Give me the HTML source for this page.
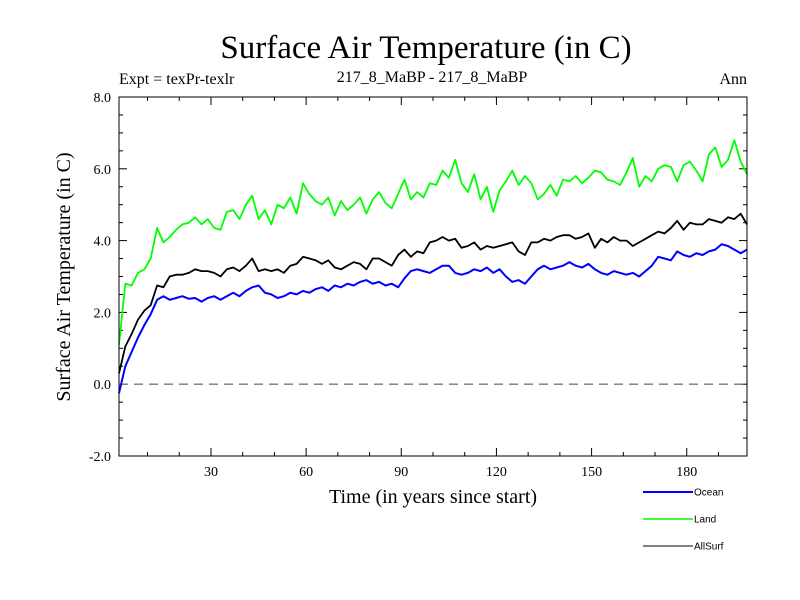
<!DOCTYPE html>
<html><head><meta charset="utf-8"><style>
body{margin:0;background:#fff;}
svg{display:block;font-family:"Liberation Serif",serif;}
</style></head><body>
<svg id="chart" width="800" height="600" viewBox="0 0 800 600">
<text x="426" y="58" font-size="33" text-anchor="middle">Surface Air Temperature (in C)</text>
<text x="119" y="84" font-size="16">Expt = texPr-texlr</text>
<text x="432" y="82" font-size="16" text-anchor="middle">217_8_MaBP - 217_8_MaBP</text>
<text x="747" y="84" font-size="16" text-anchor="end">Ann</text>
<text x="433" y="503" font-size="20" text-anchor="middle">Time (in years since start)</text>
<text transform="translate(70,277) rotate(-90)" font-size="20" text-anchor="middle">Surface Air Temperature (in C)</text>
<g id="axes"></g>
<g id="series"></g>
<rect x="119" y="97" width="628" height="359" fill="none" stroke="#000" stroke-width="1"/>
<g font-family="Liberation Sans, sans-serif" font-size="10">
<line x1="643" y1="492" x2="693" y2="492" stroke="#0000ff" stroke-width="2"/>
<text x="694" y="495.5">Ocean</text>
<line x1="643" y1="519" x2="693" y2="519" stroke="#00ff00" stroke-width="1.5"/>
<text x="694" y="522.5">Land</text>
<line x1="643" y1="546" x2="693" y2="546" stroke="#000" stroke-width="1"/>
<text x="694" y="549.5">AllSurf</text>
</g>
</svg>
<script>
const years = [];
for (let y = 1; y <= 199; y += 2) years.push(y);
const ocean = [-0.25,0.5,0.9,1.3,1.65,1.95,2.35,2.45,2.35,2.4,2.45,2.38,2.4,2.3,2.4,2.45,2.35,2.45,2.55,2.45,2.6,2.7,2.75,2.55,2.5,2.4,2.45,2.55,2.5,2.6,2.55,2.65,2.7,2.6,2.75,2.7,2.8,2.75,2.85,2.9,2.8,2.85,2.75,2.8,2.7,2.95,3.15,3.2,3.15,3.1,3.2,3.3,3.3,3.1,3.05,3.1,3.2,3.15,3.25,3.1,3.2,3.0,2.85,2.9,2.8,3.0,3.2,3.3,3.2,3.25,3.3,3.4,3.3,3.25,3.35,3.2,3.1,3.05,3.15,3.1,3.05,3.1,3.0,3.15,3.3,3.55,3.5,3.45,3.7,3.6,3.55,3.65,3.6,3.7,3.75,3.9,3.85,3.75,3.65,3.75];
const land = [1.1,2.8,2.75,3.1,3.2,3.5,4.35,3.95,4.1,4.3,4.45,4.5,4.65,4.45,4.6,4.35,4.3,4.8,4.85,4.6,5.0,5.25,4.6,4.85,4.45,5.0,4.9,5.2,4.75,5.6,5.3,5.1,5.0,5.2,4.7,5.1,4.85,5.0,5.2,4.75,5.15,5.35,5.05,4.9,5.3,5.7,5.15,5.35,5.2,5.6,5.55,5.95,5.75,6.25,5.6,5.35,5.85,5.15,5.5,4.8,5.4,5.65,5.95,5.55,5.8,5.6,5.15,5.3,5.55,5.25,5.7,5.65,5.8,5.6,5.75,5.95,5.9,5.7,5.65,5.55,5.9,6.3,5.5,5.8,5.65,6.0,6.1,6.05,5.65,6.1,6.2,5.95,5.65,6.4,6.6,6.05,6.25,6.8,6.2,5.85];
const allsurf = [0.3,1.05,1.4,1.8,2.05,2.2,2.75,2.7,3.0,3.05,3.05,3.1,3.2,3.15,3.15,3.1,3.0,3.2,3.25,3.15,3.3,3.5,3.15,3.2,3.15,3.2,3.1,3.3,3.35,3.55,3.5,3.45,3.35,3.45,3.25,3.2,3.3,3.4,3.35,3.2,3.5,3.5,3.4,3.3,3.6,3.75,3.55,3.7,3.65,3.95,4.0,4.1,4.0,4.05,3.8,3.85,3.95,3.75,3.85,3.8,3.85,3.9,3.95,3.7,3.6,3.95,3.95,4.05,4.0,4.1,4.15,4.15,4.05,4.1,4.2,3.8,4.05,3.95,4.1,4.0,4.0,3.85,3.95,4.05,4.15,4.25,4.2,4.35,4.55,4.3,4.5,4.45,4.45,4.6,4.55,4.5,4.65,4.6,4.75,4.45];
const xTicks = [30,60,90,120,150,180];
const yTicks = [-2,0,2,4,6,8];
const yTickLabels = ["-2.0","0.0","2.0","4.0","6.0","8.0"];

const NS = "http://www.w3.org/2000/svg";
const X0=119, X1=747, Y0=97, Y1=456, XMIN=1, XMAX=199, YMIN=-2, YMAX=8;
function sx(v){return X0+(v-XMIN)/(XMAX-XMIN)*(X1-X0);}
function sy(v){return Y1-(v-YMIN)/(YMAX-YMIN)*(Y1-Y0);}
function mk(tag, attrs, parent){const e=document.createElementNS(NS,tag);for(const k in attrs)e.setAttribute(k,attrs[k]);parent.appendChild(e);return e;}
const axes=document.getElementById('axes');
for(let v=YMIN; v<=YMAX+1e-9; v+=0.5){
  const major = Math.abs(v/2-Math.round(v/2))<1e-9;
  const len = major?8:4;
  const t1=mk('line',{x1:X0,x2:X0+len,y1:sy(v),y2:sy(v),stroke:'#000','stroke-width':1},axes);
  
  
  const t2=mk('line',{x1:X1,x2:X1-len,y1:sy(v),y2:sy(v),stroke:'#000','stroke-width':1},axes);
  
  
}
yTicks.forEach((v,i)=>{
  const t=mk('text',{x:X0-8,y:sy(v)+5,'font-size':14,'text-anchor':'end'},axes);
  t.textContent=yTickLabels[i];
  
  
});
for(let v=10; v<=XMAX; v+=10){
  const major = v%30===0;
  const len = major?8:4;
  const t1=mk('line',{x1:sx(v),x2:sx(v),y1:Y1,y2:Y1-len,stroke:'#000','stroke-width':1},axes);
  
  
  const t2=mk('line',{x1:sx(v),x2:sx(v),y1:Y0,y2:Y0+len,stroke:'#000','stroke-width':1},axes);
  
  
}
xTicks.forEach(v=>{
  const t=mk('text',{x:sx(v),y:Y1+20,'font-size':14,'text-anchor':'middle'},axes);
  t.textContent=String(v);
  
  
});
const z=mk('line',{x1:X0,x2:X1,y1:sy(0),y2:sy(0),stroke:'#777','stroke-width':1.3,'stroke-dasharray':'9,6'},axes);


const sg=document.getElementById('series');
function line(vals,color,w,name){
  const d=vals.map((v,i)=>(i?'L':'M')+sx(years[i]).toFixed(1)+','+sy(v).toFixed(1)).join('');
  const p=mk('path',{d:d,fill:'none',stroke:color,'stroke-width':w,'stroke-linejoin':'round'},sg);
  
  
}
line(land,'#00ff00',1.8,'land-series');
line(ocean,'#0000ff',2,'ocean-series');
line(allsurf,'#000000',1.8,'allsurf-series');
</script>
</body></html>
